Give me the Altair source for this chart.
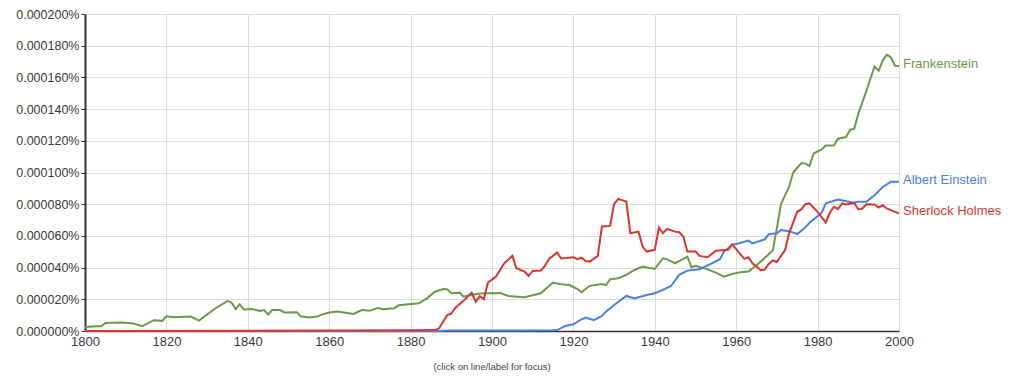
import altair as alt
import pandas as pd

# values in units of 1e-6 percent (20 -> 0.000020%)
frank_years = [1800, 1803, 1804, 1805, 1809, 1812, 1814, 1817, 1819, 1820, 1822, 1826, 1828, 1830,
               1832, 1835, 1836, 1837, 1838, 1839, 1841, 1843, 1844, 1845, 1846, 1848, 1849, 1852,
               1853, 1855, 1857, 1858, 1860, 1862, 1864, 1866, 1868, 1870, 1872, 1873, 1876, 1877,
               1882, 1884, 1886, 1888, 1889, 1890, 1892, 1893, 1895, 1897, 1902, 1904, 1908, 1910,
               1912, 1914, 1915, 1917, 1919, 1921, 1922, 1924, 1927, 1928, 1929, 1931, 1933, 1935,
               1937, 1940, 1942, 1943, 1945, 1948, 1949, 1950, 1953, 1955, 1957, 1959, 1961, 1963,
               1965, 1967, 1969, 1970, 1971, 1973, 1974, 1976, 1977, 1978, 1979, 1981, 1982, 1984,
               1985, 1987, 1988, 1989, 1990, 1992, 1994, 1995, 1996, 1997, 1998, 1999, 2000]
frank_vals = [2.5, 3, 3, 5, 5.3, 4.7, 3, 6.8, 6.4, 9.3, 8.7, 9.1, 6.6, 10.4,
              14.2, 18.9, 18, 13.8, 16.8, 13.6, 13.8, 12.7, 13.2, 10.4, 13.2, 13.2, 11.7, 11.9,
              9.3, 8.5, 9.1, 10.2, 11.7, 12.3, 11.5, 10.8, 13.2, 12.8, 14.6, 13.7, 14.3, 16.2,
              17.5, 20.6, 24.8, 26.5, 26.3, 23.8, 24.2, 21.7, 22.7, 23.6, 24, 22.1, 21.3, 22.5,
              23.8, 28.4, 30.5, 29.5, 29, 26.5, 24.4, 28.5, 29.7, 29, 32.6, 33.3, 35.4, 38.5,
              40.6, 39.2, 45.9, 45.3, 42.7, 46.9, 40.2, 41.1, 38.9, 36.8, 34.3, 36, 37, 37.5,
              41.5, 46, 51, 65, 80, 91, 100, 106, 105.6, 104, 112, 114.5, 117, 117,
              121.3, 122.4, 127, 127.6, 137, 151.7, 167, 164.3, 170.6, 174.4, 172.7, 167.5, 167]

einstein_years = [1800, 1887, 1889, 1915, 1916, 1918, 1920, 1922, 1923, 1925, 1927, 1928, 1930, 1933,
                  1935, 1938, 1940, 1942, 1944, 1946, 1948, 1951, 1952, 1954, 1956, 1957, 1959, 1961,
                  1963, 1964, 1967, 1968, 1970, 1971, 1973, 1975, 1977, 1978, 1981, 1982, 1985, 1987,
                  1989, 1990, 1992, 1994, 1996, 1998, 2000]
einstein_vals = [0, 0, 0.3, 0.4, 0.6, 3.2, 4.2, 7.4, 8.5, 6.9, 9.5, 12.2, 16.4, 22.1,
                 20.6, 22.7, 23.8, 25.9, 28.4, 35.4, 38.1, 38.9, 40.2, 42.7, 45.3, 50.1, 54.3, 55.5,
                 57, 55.3, 57.8, 61, 61.6, 63.7, 63, 61.2, 65.4, 68.3, 74.6, 80.5, 83, 81.9,
                 80.9, 81.5, 81.5, 85.7, 90.9, 94.1, 94.1]

holmes_years = [1800, 1860, 1880, 1886, 1887, 1889, 1890, 1891, 1893, 1895, 1896, 1897, 1898, 1899,
                1901, 1903, 1905, 1906, 1908, 1909, 1910, 1912, 1913, 1914, 1916, 1917, 1920, 1921,
                1922, 1923, 1924, 1926, 1927, 1929, 1930, 1931, 1933, 1934, 1936, 1937, 1938, 1940,
                1941, 1942, 1943, 1945, 1946, 1947, 1948, 1950, 1951, 1953, 1955, 1958, 1959, 1960,
                1962, 1963, 1964, 1966, 1967, 1968, 1969, 1970, 1972, 1973, 1975, 1976, 1977, 1978,
                1980, 1982, 1983, 1984, 1985, 1986, 1987, 1989, 1990, 1991, 1992, 1994, 1995, 1996,
                1997, 1999, 2000]
holmes_vals = [0, 0.3, 0.5, 0.6, 1.7, 10, 11, 14.7, 19, 24.2, 18.5, 22, 20, 30.5,
               34.3, 42.7, 47.4, 39.6, 37.5, 34.7, 37.9, 38.1, 41, 45.5, 49.5, 45.7, 46.5, 45.3,
               46.3, 44.2, 43.8, 47.4, 65.9, 66.3, 80, 83.4, 81.7, 61.7, 62.7, 53.3, 50.1, 51.2,
               65.3, 61.7, 64.4, 62.7, 62.3, 59.6, 50.1, 50.1, 47.4, 46.5, 50.7, 51.2, 54.7, 51.6,
               45.5, 46.5, 42.7, 38.3, 38.8, 42.3, 44.5, 43.5, 51.1, 61.6, 75.2, 76.7, 80, 80.5,
               75.2, 68.5, 74.6, 78.4, 76.9, 80.5, 79.8, 80.9, 76.7, 77.3, 80, 79.8, 77.9, 79.4,
               77.3, 75.2, 74.2]

series_names = ["Frankenstein", "Albert Einstein", "Sherlock Holmes"]
series_colors = ["#6b9a4c", "#4a7fe6", "#d8362f"]
x_ticks = [1800, 1820, 1840, 1860, 1880, 1900, 1920, 1940, 1960, 1980, 2000]
y_ticks = [0, 20, 40, 60, 80, 100, 120, 140, 160, 180, 200]

rows = []
for name, ys, vs in [("Frankenstein", frank_years, frank_vals),
                     ("Albert Einstein", einstein_years, einstein_vals),
                     ("Sherlock Holmes", holmes_years, holmes_vals)]:
    for y, v in zip(ys, vs):
        rows.append({"series": name, "year": y, "value": v})
df = pd.DataFrame(rows)
last = df.sort_values("year").groupby("series").tail(1)

FONT = "Liberation Sans"

color = alt.Color("series:N", scale=alt.Scale(domain=series_names, range=series_colors), legend=None)
xscale = alt.Scale(domain=[1800, 2000], nice=False, zero=False)
yscale = alt.Scale(domain=[0, 200], nice=False)
xaxis = alt.Axis(values=x_ticks, format="d", title=None, tickSize=0, labelPadding=4,
                 labelFontSize=13, labelColor="#3a3a3a", domainColor="#333",
                 domainWidth=1.5, gridColor="#dcdcdc", labelFont=FONT,
                 labelFlush=False, labelOverlap=False)
yaxis = alt.Axis(values=y_ticks, title=None, tickSize=4, tickColor="#333",
                 labelPadding=2, labelFontSize=12.5, labelColor="#3a3a3a",
                 labelExpr="format(datum.value/1000000, '.6f') + '%'",
                 labelFlush=False, labelOverlap=False,
                 domainColor="#333", domainWidth=2, gridColor="#dcdcdc", labelFont=FONT)

lines = alt.Chart(df).mark_line(strokeWidth=2, interpolate="linear").encode(
    x=alt.X("year:Q", scale=xscale, axis=xaxis),
    y=alt.Y("value:Q", scale=yscale, axis=yaxis),
    color=color,
    order=alt.Order("year:Q"),
)

labels = alt.Chart(last).mark_text(align="left", baseline="middle", dx=4, dy=-2,
                                   fontSize=13, font=FONT).encode(
    x=alt.X("year:Q", scale=xscale, axis=xaxis),
    y=alt.Y("value:Q", scale=yscale, axis=yaxis),
    text="series:N", color=color)

chart = alt.layer(lines, labels).properties(
    width=814, height=317,
    title=alt.TitleParams("(click on line/label for focus)", orient="bottom", anchor="middle",
                          fontSize=9.5, fontWeight="normal", color="#444", font=FONT, offset=14),
    autosize=alt.AutoSizeParams(type="none"),
    padding={"left": 85, "top": 14, "right": 125, "bottom": 52},
).configure_view(stroke=None).configure_axis(gridWidth=1)

chart.save("out.html", embed_options={"renderer": "svg", "actions": False})
